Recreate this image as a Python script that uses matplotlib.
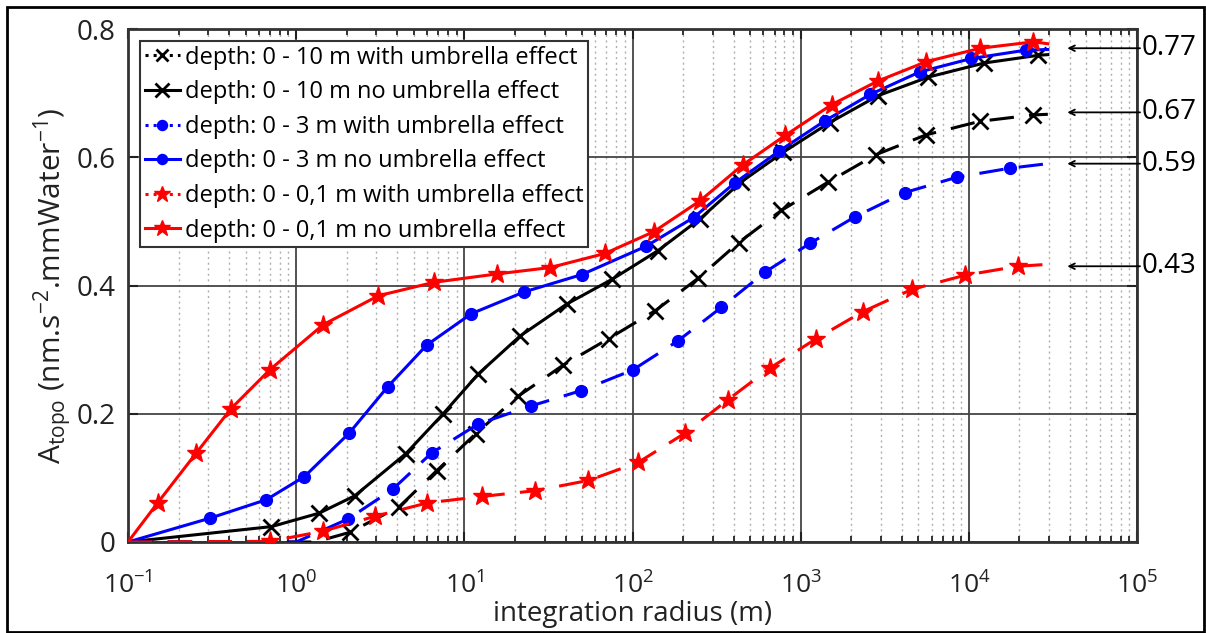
import matplotlib
matplotlib.use("Agg")
import matplotlib.pyplot as plt
from matplotlib.lines import Line2D
from matplotlib.patches import Rectangle
from matplotlib.ticker import NullFormatter, FixedLocator, LogFormatterSciNotation

plt.rcParams['font.family'] = ['Open Sans', 'DejaVu Sans']
plt.rcParams['mathtext.default'] = 'regular'

# ---------------- data ----------------
# depth 0-10 m, no umbrella effect (black solid, x)
x_10_no = [0.1, 0.713, 1.37, 2.23, 4.5, 7.43, 12.1, 21.4, 40.6, 76, 141, 252, 440, 789, 1486, 2884, 5740, 12360, 25900, 29500]
y_10_no = [0.0, 0.024, 0.045, 0.072, 0.138, 0.199, 0.262, 0.321, 0.371, 0.410, 0.454, 0.504, 0.561, 0.608, 0.654, 0.696, 0.725, 0.747, 0.759, 0.760]
# depth 0-10 m, with umbrella effect (black dashed, x)
x_10_um = [0.1, 1.3, 2.08, 4.1, 6.84, 11.7, 20.8, 38.8, 72, 137, 245, 428, 767, 1450, 2800, 5580, 11600, 24200, 29500]
y_10_um = [0.0, 0.0, 0.015, 0.055, 0.111, 0.169, 0.227, 0.276, 0.317, 0.361, 0.411, 0.467, 0.517, 0.561, 0.604, 0.635, 0.656, 0.666, 0.667]
# depth 0-3 m, with umbrella effect (blue dashed, o)
x_3_um = [0.1, 1.0, 2.04, 3.74, 6.4, 12.1, 24.8, 49.4, 100, 187, 338, 615, 1140, 2100, 4170, 8530, 17600, 29500]
y_3_um = [0.0, 0.0, 0.036, 0.082, 0.139, 0.184, 0.212, 0.236, 0.268, 0.314, 0.366, 0.421, 0.466, 0.507, 0.545, 0.569, 0.583, 0.590]
# depth 0-3 m, no umbrella effect (blue solid, o)
x_3_no = [0.1, 0.306, 0.665, 1.12, 2.07, 3.5, 5.97, 11.0, 22.7, 49.9, 120, 231, 406, 748, 1397, 2594, 5100, 10370, 21800, 29500]
y_3_no = [0.0, 0.037, 0.066, 0.102, 0.170, 0.242, 0.307, 0.356, 0.390, 0.417, 0.461, 0.506, 0.560, 0.610, 0.657, 0.698, 0.733, 0.754, 0.767, 0.768]
# depth 0-0,1 m, with umbrella effect (red dashed, *)
x_01_um = [0.1, 0.70, 1.45, 2.94, 6.03, 12.7, 26.4, 54.7, 108, 206, 370, 655, 1236, 2335, 4590, 9480, 19600, 29500]
y_01_um = [0.0, 0.001, 0.017, 0.040, 0.061, 0.071, 0.080, 0.096, 0.124, 0.170, 0.222, 0.271, 0.317, 0.359, 0.394, 0.416, 0.430, 0.433]
# depth 0-0,1 m, no umbrella effect (red solid, *)
x_01_no = [0.1, 0.15, 0.255, 0.41, 0.70, 1.45, 3.08, 6.6, 15.6, 32.4, 68.7, 134, 252, 452, 809, 1528, 2884, 5580, 11700, 24200, 29500]
y_01_no = [0.0, 0.061, 0.139, 0.208, 0.269, 0.339, 0.384, 0.405, 0.418, 0.428, 0.450, 0.484, 0.532, 0.588, 0.634, 0.682, 0.719, 0.749, 0.770, 0.780, 0.777]

labels = ["depth: 0 - 10 m with umbrella effect",
          "depth: 0 - 10 m no umbrella effect",
          "depth: 0 - 3 m with umbrella effect",
          "depth: 0 - 3 m no umbrella effect",
          "depth: 0 - 0,1 m with umbrella effect",
          "depth: 0 - 0,1 m no umbrella effect"]

final_values = [0.77, 0.67, 0.59, 0.43]
final_labels = ["0.77", "0.67", "0.59", "0.43"]

ytick_vals = [0, 0.2, 0.4, 0.6, 0.8]
ytick_labels = ["0", "0.2", "0.4", "0.6", "0.8"]
xtick_vals = [1e-1, 1e0, 1e1, 1e2, 1e3, 1e4, 1e5]

# ---------------- figure ----------------
fig = plt.figure(figsize=(12.06, 6.33), dpi=100)
W, H = 1206, 633
ax = fig.add_axes([128 / W, 1 - 542 / H, (1137 - 128) / W, (542 - 29) / H])

# marker index lists: skip first point (origin) and last point (curve end),
# and also the added zero point of the dashed curves
series = [
    (x_10_um, y_10_um, 'k', '--', 'x', 11, ':', 2),
    (x_10_no, y_10_no, 'k', '-', 'x', 12, '-', 1),
    (x_3_um, y_3_um, 'b', '--', 'o', 8.5, ':', 2),
    (x_3_no, y_3_no, 'b', '-', 'o', 8.5, '-', 1),
    (x_01_um, y_01_um, 'r', '--', '*', 14, ':', 1),
    (x_01_no, y_01_no, 'r', '-', '*', 14, '-', 1),
]

handles = []
for (xs, ys, c, ls, mk, ms, lls, first), lab in zip(series, labels):
    n = len(xs)
    mew = 2.0 if mk == 'x' else 1.0
    ax.plot(xs, ys, color=c, linestyle=ls, lw=2.2, marker=mk, markersize=ms,
            markeredgewidth=mew, markevery=list(range(first, n - 1)),
            dashes=(8, 5) if ls == '--' else (None, None), zorder=3)
    handles.append(Line2D([], [], color=c, linestyle=lls, lw=2.2, marker=mk,
                          markersize=ms * 0.85, markeredgewidth=mew))

ax.set_xscale('log')
ax.set_xlim(0.1, 1e5)
ax.set_ylim(0, 0.8)
ax.yaxis.set_major_locator(FixedLocator(ytick_vals))
ax.set_yticklabels(ytick_labels)
ax.xaxis.set_major_locator(FixedLocator(xtick_vals))
ax.xaxis.set_major_formatter(LogFormatterSciNotation())
minor_x = [m * 10.0 ** e for e in range(-1, 5) for m in range(2, 10)]
ax.xaxis.set_minor_locator(FixedLocator(minor_x))
ax.xaxis.set_minor_formatter(NullFormatter())

ax.grid(True, which='major', color='#444444', lw=1.3, linestyle='-', zorder=0)
ax.grid(True, which='minor', axis='x', color='#b0b0b0', lw=1.0, linestyle=(0, (1.5, 2.5)), zorder=0)
ax.set_axisbelow(True)

for s in ax.spines.values():
    s.set_color('#333333')
    s.set_linewidth(2.0)
ax.tick_params(which='both', direction='in', top=True, right=True, colors='#222222',
               labelcolor='#222222')
ax.tick_params(which='major', length=7, width=1.5)
ax.tick_params(which='minor', length=4, width=1.3)
ax.tick_params(axis='x', pad=22, labelsize=19)
ax.tick_params(axis='y', pad=9, labelsize=20)

ax.set_xlabel("integration radius (m)", fontsize=20, color='#222222', labelpad=0)
ax.set_ylabel(r"A$_{topo}$ (nm.s$^{-2}$.mmWater$^{-1}$)", fontsize=21.5, color='#222222', labelpad=2)

leg = ax.legend(handles, labels, loc='upper left', fontsize=17, frameon=True, fancybox=False,
                handlelength=1.5, handletextpad=0.2, borderaxespad=0.5, labelspacing=0.45,
                borderpad=0.2, framealpha=1)
leg.get_frame().set_edgecolor('#333333')
leg.get_frame().set_linewidth(1.5)

for v, t in zip(final_values, final_labels):
    ax.annotate('', xy=(38500, v), xytext=(1.003, v),
                xycoords='data', textcoords=('axes fraction', 'data'),
                arrowprops=dict(arrowstyle='->', color='k', lw=1.3, shrinkA=0, shrinkB=0),
                annotation_clip=False, zorder=5)
    ax.annotate(t, xy=(1.005, v), xycoords=('axes fraction', 'data'), fontsize=20,
                va='center', ha='left', color='k', annotation_clip=False)

fig.patches.append(Rectangle((7 / W, 1 / H), (1204 - 7) / W, (626 - 1) / H, transform=fig.transFigure,
                             fill=False, edgecolor='k', lw=2.0, figure=fig))

fig.savefig("out.png", dpi=100)
